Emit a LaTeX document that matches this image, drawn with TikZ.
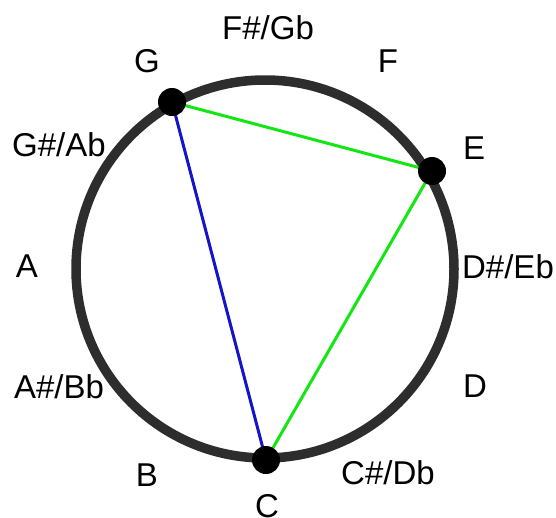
\documentclass[tikz,border=0pt]{standalone}
\usepackage{fontspec}
\setmainfont{Liberation Sans}
\definecolor{ringgray}{RGB}{45,45,45}
\definecolor{lgreen}{RGB}{20,230,20}
\definecolor{lblue}{RGB}{20,20,200}
\begin{document}
\begin{tikzpicture}[x=1pt,y=-1pt,
  lbl/.style={font=\fontsize{33}{39}\selectfont, inner sep=0pt, text height=23.6pt, text depth=0pt, anchor=center},
  dot/.style={circle, fill=black, minimum size=28pt, inner sep=0pt},
  ring/.style={draw=ringgray, line width=9.5pt},
  greenline/.style={draw=lgreen, line width=3pt},
  blueline/.style={draw=lblue, line width=3pt}]
\useasboundingbox (0,0) rectangle (556,517);
\draw[ring] (265,269) circle [radius=189];
\coordinate (pG) at (172,102);
\coordinate (pE) at (432,171);
\coordinate (pC) at (266,460);
\draw[blueline] (pG) -- (pC);
\draw[greenline] (pG) -- (pE);
\draw[greenline] (pE) -- (pC);
\node[dot] (G) at (pG) {};
\node[dot] (E) at (pE) {};
\node[dot] (C) at (pC) {};
\node[lbl] (lC)  at (267,506) {C};
\node[lbl] (lCs) at (388,473) {C\#/Db};
\node[lbl] (lD)  at (475,386) {D};
\node[lbl] (lDs) at (508,267) {D\#/Eb};
\node[lbl] (lE)  at (474,148) {E};
\node[lbl] (lF)  at (388,61) {F};
\node[lbl] (lFs) at (268,28) {F\#/Gb};
\node[lbl] (lG)  at (147,61) {G};
\node[lbl] (lGs) at (59,145) {G\#/Ab};
\node[lbl] (lA)  at (27,266) {A};
\node[lbl] (lAs) at (59,387) {A\#/Bb};
\node[lbl] (lB)  at (147,475) {B};
\end{tikzpicture}
\end{document}
